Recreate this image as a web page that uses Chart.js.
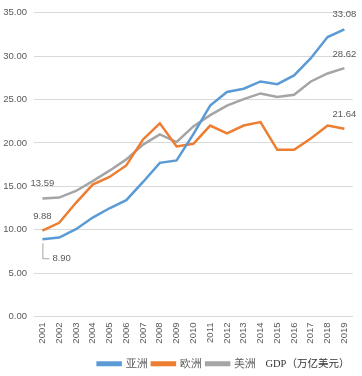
<!DOCTYPE html>
<html>
<head>
<meta charset="utf-8">
<script src="https://cdn.jsdelivr.net/npm/chart.js@4"></script>
<style>
html,body{margin:0;padding:0;background:#fff;}
#wrap{width:362px;height:376px;position:relative;}
</style>
</head>
<body>
<div id="wrap"><canvas id="c" width="362" height="376"></canvas></div>
<script>
const years = ['2001','2002','2003','2004','2005','2006','2007','2008','2009','2010','2011','2012','2013','2014','2015','2016','2017','2018','2019'];
const asia = [8.90, 9.10, 10.06, 11.40, 12.47, 13.40, 15.50, 17.70, 17.98, 21.00, 24.30, 25.86, 26.24, 27.08, 26.77, 27.77, 29.76, 32.20, 33.08];
const europe = [9.88, 10.80, 13.10, 15.20, 16.07, 17.40, 20.40, 22.26, 19.60, 19.90, 22.00, 21.10, 22.00, 22.40, 19.20, 19.20, 20.50, 22.00, 21.64];
const america = [13.59, 13.70, 14.46, 15.60, 16.80, 18.10, 19.80, 20.97, 20.10, 21.90, 23.20, 24.30, 25.05, 25.70, 25.30, 25.55, 27.08, 28.00, 28.62];
const seriesNames = ['亚洲', '欧洲', '美洲'];
const unitText = 'GDP（万亿美元）';

const colors = ['#5B9BD5', '#ED7D31', '#A5A5A5'];
const textColor = '#595959';
const FONT = '"Liberation Sans", Arial, sans-serif';

const labelPlugin = {
  id: 'labels',
  afterDatasetsDraw(chart) {
    const ctx = chart.ctx;
    const x = chart.scales.x, y = chart.scales.y;
    const last = years.length - 1;
    ctx.save();
    ctx.fillStyle = textColor;
    ctx.font = '9.5px ' + FONT;
    ctx.textAlign = 'center';
    ctx.textBaseline = 'middle';
    [[asia, 15], [america, 14], [europe, 14]].forEach(([arr, dy]) => {
      ctx.fillText(arr[last].toFixed(2), x.getPixelForValue(last), y.getPixelForValue(arr[last]) - dy);
    });
    const x0 = x.getPixelForValue(0);
    ctx.fillText(america[0].toFixed(2), x0, y.getPixelForValue(america[0]) - 15);
    ctx.fillText(europe[0].toFixed(2), x0, y.getPixelForValue(europe[0]) - 14);
    const ya = y.getPixelForValue(asia[0]);
    ctx.strokeStyle = '#A6A6A6';
    ctx.lineWidth = 1;
    ctx.beginPath();
    ctx.moveTo(x0 + 0.5, ya + 4);
    ctx.lineTo(x0 + 0.5, ya + 19.5);
    ctx.lineTo(x0 + 7, ya + 19.5);
    ctx.stroke();
    ctx.textAlign = 'left';
    ctx.fillText(asia[0].toFixed(2), x0 + 10, ya + 19.5);
    ctx.restore();
  },
  afterDraw(chart) {
    const lg = chart.legend;
    if (!lg || !lg.legendHitBoxes || !lg.legendHitBoxes.length) return;
    const hb = lg.legendHitBoxes[lg.legendHitBoxes.length - 1];
    const ctx = chart.ctx;
    ctx.save();
    ctx.fillStyle = '#333333';
    ctx.font = '10.5px "Liberation Serif", "Noto Sans CJK SC", serif';
    ctx.textAlign = 'left';
    ctx.textBaseline = 'middle';
    ctx.fillText(unitText, hb.left + hb.width + 9, hb.top + hb.height / 2);
    ctx.restore();
  }
};

new Chart(document.getElementById('c'), {
  type: 'line',
  data: {
    labels: years,
    datasets: [asia, europe, america].map((d, i) => ({
      label: seriesNames[i],
      data: d,
      borderColor: colors[i],
      backgroundColor: colors[i],
      borderWidth: 2.5,
      pointRadius: 0,
      tension: 0,
      fill: false
    }))
  },
  options: {
    responsive: false,
    animation: false,
    layout: { padding: { top: 6, right: 8, left: 0, bottom: -3 } },
    plugins: {
      tooltip: { enabled: false },
      legend: {
        position: 'bottom',
        labels: {
          color: textColor,
          font: { family: FONT, size: 10.5 },
          boxWidth: 23,
          boxHeight: 2.5,
          padding: 4
        }
      }
    },
    scales: {
      x: {
        offset: true,
        grid: { display: false, drawTicks: false },
        border: { display: true, color: '#D9D9D9' },
        ticks: {
          color: textColor,
          font: { family: FONT, size: 9.5 },
          minRotation: 90,
          maxRotation: 90,
          padding: 6,
          autoSkip: false
        },
        afterFit(s) { s.height = 38; }
      },
      y: {
        min: 0,
        max: 35,
        grid: { color: '#D9D9D9', drawTicks: false },
        border: { display: false },
        ticks: {
          stepSize: 5,
          color: textColor,
          font: { family: FONT, size: 9.5 },
          padding: 7,
          callback: v => Number(v).toFixed(2)
        },
        afterFit(s) { s.width = 34; }
      }
    }
  },
  plugins: [labelPlugin]
});
</script>
</body>
</html>
